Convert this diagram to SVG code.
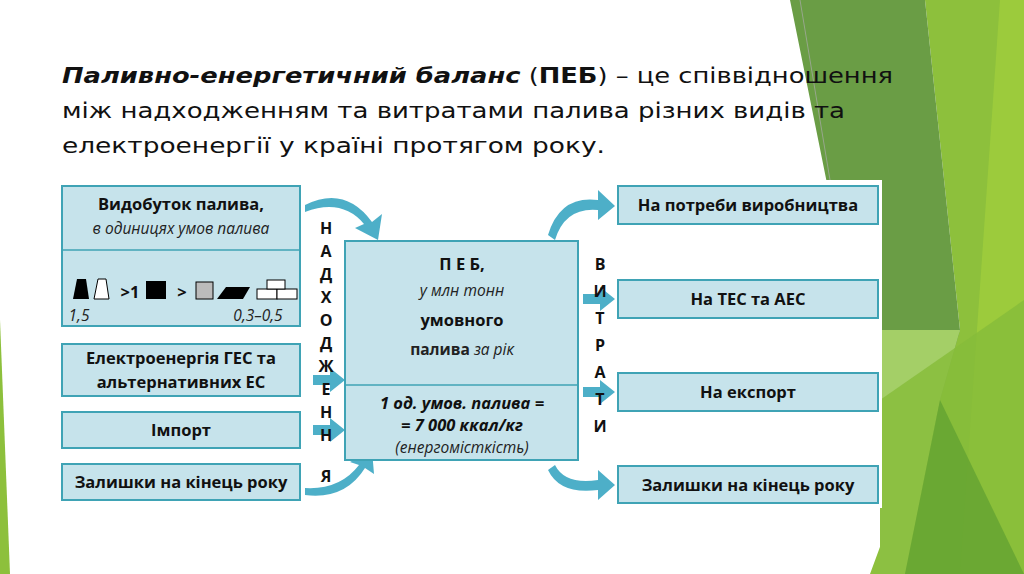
<svg xmlns="http://www.w3.org/2000/svg" width="1024" height="574" viewBox="0 0 1024 574">
<defs>
<style>
.b{fill:#c6e3eb;stroke:#3fa3b5;stroke-width:2}
.t{font-family:"Open Sans","Liberation Sans",sans-serif;font-weight:bold;font-size:16.5px;fill:#111;text-anchor:middle}
.i{font-family:"Open Sans","Liberation Sans",sans-serif;font-style:italic;font-size:15.5px;fill:#222;text-anchor:middle}
.v{font-family:"Open Sans","Liberation Sans",sans-serif;font-weight:bold;font-size:16px;fill:#111;text-anchor:middle}
.h{font-family:"DejaVu Sans","Liberation Sans",sans-serif;font-size:22px;fill:#111}
.arr{fill:#3aa6c2;opacity:0.9}
</style>
</defs>
<rect width="1024" height="574" fill="#fff"/>
<g id="bg">
<polygon points="925,0 1024,0 1024,574 870,574 960,330" fill="#8dc03c"/>
<polygon points="790,0 925,0 960,330 940,400 905,570" fill="#6a9d45"/>
<polygon points="1000,0 1024,0 1024,574 960,574" fill="#9ccb3c"/>
<polygon points="880,330 960,330 940,400 905,574 880,574" fill="#a4cf67"/>
<polygon points="830,180 880,180 880,330" fill="#d4e7b0"/>
<polygon points="880,400 1024,300 1024,574 880,574" fill="#86bb3a" opacity="0.8"/>
<polygon points="940,400 1024,574 905,574" fill="#579a2e" opacity="0.6"/>
<polygon points="0,320 10,574 0,574" fill="#8dc03c"/>
<line x1="800" y1="0" x2="830" y2="180" stroke="#aaa" stroke-width="0.7"/>
</g>
<text class="h" x="62" y="83" textLength="831" lengthAdjust="spacingAndGlyphs"><tspan font-weight="bold" font-style="italic">Паливно-енергетичний баланс</tspan> (<tspan font-weight="bold">ПЕБ</tspan>) – це співвідношення</text>
<text class="h" x="62" y="118" textLength="783" lengthAdjust="spacingAndGlyphs">між надходженням та витратами палива різних видів та</text>
<text class="h" x="62" y="153" textLength="543" lengthAdjust="spacingAndGlyphs">електроенергії у країні протягом року.</text>
<rect x="55" y="180" width="827" height="328" fill="#fff"/>
<g id="connectors">
<path class="arr" d="M305,205 Q345,185 372,222 L382,214 L378,240 L355,228 L364,224 Q342,198 305,212Z"/>
<path class="arr" d="M305,495 Q345,500 365,468 L374,474 L372,450 L350,462 L359,465 Q340,490 305,488Z"/>
<path class="arr" d="M313,375 L330,375 L330,368 L345,380 L330,392 L330,385 L313,385Z"/>
<path class="arr" d="M313,425 L330,425 L330,418 L345,430 L330,442 L330,435 L313,435Z"/>
<path class="arr" d="M548,235 Q560,195 598,200 L598,190 L615,206 L598,220 L598,210 Q565,207 555,240Z"/>
<path class="arr" d="M548,470 Q560,495 598,490 L598,500 L615,485 L598,470 L598,480 Q565,485 555,465Z"/>
<path class="arr" d="M583,294 L600,294 L600,287 L615,299 L600,311 L600,304 L583,304Z"/>
<path class="arr" d="M583,387 L600,387 L600,380 L615,392 L600,404 L600,397 L583,397Z"/>
</g>
<g id="left1">
<rect class="b" x="62" y="186" width="238" height="140"/>
<line x1="62" y1="250" x2="300" y2="250" stroke="#3fa3b5" stroke-width="1.5"/>
<text class="t" x="181" y="210">Видобуток палива,</text>
<text class="i" x="181" y="234">в одиницях умов палива</text>
<polygon points="73,299 77,279 86,279 89,299" fill="#000"/>
<polygon points="94,299 98,279 106,279 109,299" fill="#fff" stroke="#000"/>
<text class="t" x="130" y="298" font-size="18">&gt;1</text>
<rect x="146" y="281" width="20" height="18" fill="#000"/>
<text class="t" x="182" y="298" font-size="18">&gt;</text>
<rect x="196" y="282" width="17" height="17" fill="#bbb" stroke="#000"/>
<polygon points="217,299 226,287 250,287 243,299" fill="#000"/>
<rect x="257" y="289" width="20" height="10" fill="#fff" stroke="#000"/><rect x="277" y="289" width="20" height="10" fill="#fff" stroke="#000"/><rect x="267" y="280" width="18" height="9" fill="#fff" stroke="#000"/>
<text class="i" x="79" y="321">1,5</text>
<text class="i" x="258" y="321">0,3–0,5</text>
</g>
<g id="left2"><rect class="b" x="62" y="344" width="238" height="52"/><text class="t" x="181" y="364">Електроенергія ГЕС та</text><text class="t" x="181" y="388">альтернативних ЕС</text></g>
<g id="left3"><rect class="b" x="62" y="412" width="238" height="36"/><text class="t" x="181" y="436">Імпорт</text></g>
<g id="left4"><rect class="b" x="62" y="464" width="238" height="36"/><text class="t" x="181" y="488">Залишки на кінець року</text></g>
<g id="center">
<rect class="b" x="345" y="241" width="233" height="219"/>
<line x1="345" y1="385" x2="578" y2="385" stroke="#3fa3b5" stroke-width="1.5"/>
<text class="t" x="462" y="270" font-size="22">П Е Б,</text>
<text class="i" x="462" y="296">у млн тонн</text>
<text class="t" x="462" y="326">умовного</text>
<text class="i" x="462" y="355"><tspan font-weight="bold" font-style="normal">палива</tspan> за рік</text>
<text class="t" x="462" y="409" font-style="italic">1 од. умов. палива =</text>
<text class="t" x="462" y="431" font-style="italic">= 7 000 ккал/кг</text>
<text class="i" x="462" y="453">(енергомісткість)</text>
</g>
<g id="vert1">
<text class="v" x="326" y="234">Н</text><text class="v" x="326" y="257">А</text><text class="v" x="326" y="280">Д</text><text class="v" x="326" y="303">Х</text><text class="v" x="326" y="326">О</text><text class="v" x="326" y="349">Д</text><text class="v" x="326" y="372">Ж</text><text class="v" x="326" y="395">Е</text><text class="v" x="326" y="418">Н</text><text class="v" x="326" y="441">Н</text><text class="v" x="326" y="482">Я</text>
</g>
<g id="vert2">
<text class="v" x="600" y="270">В</text><text class="v" x="600" y="297">И</text><text class="v" x="600" y="324">Т</text><text class="v" x="600" y="351">Р</text><text class="v" x="600" y="378">А</text><text class="v" x="600" y="405">Т</text><text class="v" x="600" y="432">И</text>
</g>
<g id="right1"><rect class="b" x="618" y="186" width="260" height="38"/><text class="t" x="748" y="211">На потреби виробництва</text></g>
<g id="right2"><rect class="b" x="618" y="280" width="260" height="38"/><text class="t" x="748" y="305">На ТЕС та АЕС</text></g>
<g id="right3"><rect class="b" x="618" y="373" width="260" height="38"/><text class="t" x="748" y="398">На експорт</text></g>
<g id="right4"><rect class="b" x="618" y="466" width="260" height="37"/><text class="t" x="748" y="491">Залишки на кінець року</text></g>
</svg>
